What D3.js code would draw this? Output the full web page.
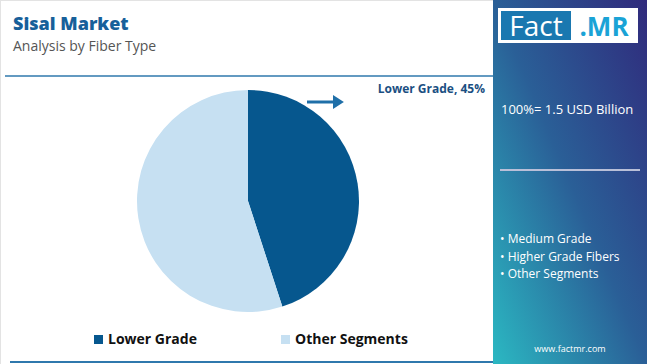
<!DOCTYPE html>
<html>
<head>
<meta charset="utf-8">
<script src="https://cdn.jsdelivr.net/npm/d3@7"></script>
<style>
  body { margin: 0; background: #fff; }
  svg { display: block; font-family: "Open Sans", Inter, sans-serif; }
</style>
</head>
<body>
<script>
// data
var segments = ["Lower Grade", "Other Segments"]
var shares = [45, 55]
var colors = ["#06578e", "#c6e0f2"]
var bullets = ["Medium Grade", "Higher Grade Fibers", "Other Segments"]
var totalLabel = "100%= 1.5 USD Billion"

var W = 650, H = 364

var svg = d3.select("body").append("svg")
  .attr("width", W)
  .attr("height", H)

var defs = svg.append("defs")
var grad = defs.append("linearGradient")
  .attr("id", "panelGrad")
  .attr("x1", "100%").attr("y1", "0%")
  .attr("x2", "0%").attr("y2", "100%")
grad.append("stop").attr("offset", "0%").attr("stop-color", "#302a7c")
grad.append("stop").attr("offset", "50%").attr("stop-color", "#2a5f97")
grad.append("stop").attr("offset", "100%").attr("stop-color", "#2bb8c2")

// left card border
svg.append("rect")
  .attr("x", 0.5).attr("y", 0.5)
  .attr("width", 493).attr("height", H)
  .attr("fill", "#fff")
  .attr("stroke", "#e3e3e3")

// titles
svg.append("text")
  .attr("x", 13).attr("y", 30)
  .attr("fill", "#17609a")
  .attr("font-size", 18)
  .attr("font-weight", 800)
  .text("Sisal Market")

svg.append("text")
  .attr("x", 13).attr("y", 51)
  .attr("fill", "#555")
  .attr("font-size", 14)
  .text("Analysis by Fiber Type")

// rules
svg.append("line")
  .attr("x1", 5).attr("x2", 493)
  .attr("y1", 76).attr("y2", 76)
  .attr("stroke", "#2f78ad").attr("stroke-width", 1.5)
svg.append("line")
  .attr("x1", 10).attr("x2", 493)
  .attr("y1", 362).attr("y2", 362)
  .attr("stroke", "#2f78ad").attr("stroke-width", 2)

// pie
var cx = 248, cy = 201, r = 111
var pie = d3.pie().sort(null).value(function(d) { return d })
var arc = d3.arc().innerRadius(0).outerRadius(r)

var g = svg.append("g").attr("transform", "translate(" + cx + "," + cy + ")")
g.selectAll("path")
  .data(pie(shares))
  .enter().append("path")
  .attr("d", arc)
  .attr("fill", function(d, i) { return colors[i] })

// callout arrow
defs.append("marker")
  .attr("id", "head")
  .attr("viewBox", "0 0 10 10")
  .attr("refX", 2).attr("refY", 5)
  .attr("markerWidth", 3.7).attr("markerHeight", 4.7)
  .attr("orient", "auto")
  .attr("preserveAspectRatio", "none")
  .append("path").attr("d", "M 0 0 L 10 5 L 0 10 z")
  .attr("fill", "#1f6fa8")

svg.append("line")
  .attr("x1", 307).attr("y1", 102)
  .attr("x2", 335).attr("y2", 102)
  .attr("stroke", "#1f6fa8").attr("stroke-width", 3)
  .attr("marker-end", "url(#head)")

svg.append("text")
  .attr("x", 485).attr("y", 93)
  .attr("text-anchor", "end")
  .attr("fill", "#1b4f82")
  .attr("font-size", 12)
  .attr("font-weight", 700)
  .text(segments[0] + ", " + shares[0] + "%")

// legend
var legX = [94, 281]
var leg = svg.selectAll("g.leg")
  .data(segments)
  .enter().append("g")
  .attr("class", "leg")
  .attr("transform", function(d, i) { return "translate(" + legX[i] + ",335)" })
leg.append("rect")
  .attr("width", 9).attr("height", 9)
  .attr("fill", function(d, i) { return colors[i] })
leg.append("text")
  .attr("x", 14).attr("y", 9)
  .attr("fill", "#111")
  .attr("font-size", 14)
  .attr("font-weight", 700)
  .text(function(d) { return d })

// right panel
svg.append("rect")
  .attr("x", 493).attr("y", 0)
  .attr("width", 154).attr("height", H)
  .attr("fill", "url(#panelGrad)")

// logo
svg.append("rect")
  .attr("x", 498).attr("y", 8)
  .attr("width", 140).attr("height", 35)
  .attr("fill", "#fff")
svg.append("rect")
  .attr("x", 501).attr("y", 11)
  .attr("width", 70).attr("height", 29)
  .attr("fill", "#1a78b0")
svg.append("text")
  .attr("x", 536).attr("y", 36)
  .attr("text-anchor", "middle")
  .attr("fill", "#fff")
  .attr("font-size", 28)
  .text("Fact")
svg.append("text")
  .attr("x", 604).attr("y", 36)
  .attr("text-anchor", "middle")
  .attr("fill", "#1aa3d6")
  .attr("font-size", 26)
  .attr("font-weight", 700)
  .text(".MR")

svg.append("text")
  .attr("x", 501).attr("y", 114)
  .attr("fill", "#fff")
  .attr("font-size", 13)
  .text(totalLabel)

svg.append("line")
  .attr("x1", 500).attr("x2", 640)
  .attr("y1", 170).attr("y2", 170)
  .attr("stroke", "#b9bfd8").attr("stroke-width", 2)

svg.selectAll("text.bullet")
  .data(bullets)
  .enter().append("text")
  .attr("class", "bullet")
  .attr("x", 500)
  .attr("y", function(d, i) { return 243 + i * 17.5 })
  .attr("fill", "#fff")
  .attr("font-size", 12)
  .text(function(d) { return "\u2022 " + d })

svg.append("text")
  .attr("x", 570).attr("y", 352)
  .attr("text-anchor", "middle")
  .attr("fill", "#fff")
  .attr("font-size", 9)
  .text("www.factmr.com")
</script>
</body>
</html>
